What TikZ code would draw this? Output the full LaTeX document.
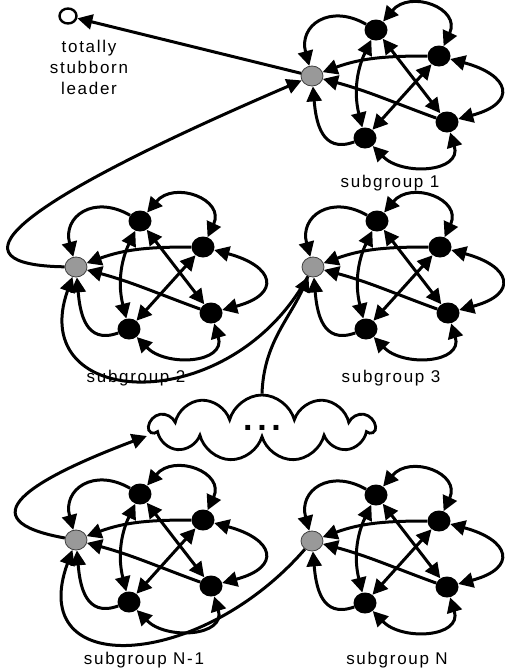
\documentclass[tikz,border=0pt]{standalone}
\usepackage{fontspec}
\setmainfont[LetterSpace=10]{Liberation Sans}
\usepackage{tikz}
\usetikzlibrary{positioning,arrows.meta,shapes.geometric,shapes.symbols}
\tikzset{
x=1pt, y=1pt
, every node/.style={font=\fontsize{17}{21}\selectfont}
, link/.style={line width=3pt, -{Triangle[length=15pt,width=15pt]}}
, twolink/.style={line width=3pt, {Triangle[length=15pt,width=15pt]}-{Triangle[length=15pt,width=15pt]}}
, leadernode/.style={ellipse, draw, line width=2.4pt, fill=white, minimum width=17pt, minimum height=15pt, inner sep=0pt}
, headnode/.style={ellipse, draw=black!75, line width=0.8pt, fill=black!40, minimum width=22pt, minimum height=20pt, inner sep=0pt}
, agentnode/.style={ellipse, fill=black, minimum width=23pt, minimum height=21pt, inner sep=0pt}
, cloudnode/.style={cloud, draw, line width=2.8pt, cloud puffs=11, aspect=3.3, minimum width=224pt, minimum height=66pt, inner sep=0pt, font=\fontsize{34}{34}\selectfont\bfseries}}
% one subgroup: name, position of its head, label position, label
\newcommand\drawsubgroup[4]{%
\begin{scope}[shift={#2}]
\node[headnode] (#1) at (0,0) {};
\node[agentnode] (#1a) at (64,46) {};
\node[agentnode] (#1b) at (127,20) {};
\node[agentnode] (#1c) at (135,-46) {};
\node[agentnode] (#1d) at (53,-62) {};
\node (#1lbl) at #3 {#4};
\draw [twolink] (#1a) to[out=50,in=65,distance=42pt] (#1b);
\draw [link] (#1a) to[out=150,in=105,distance=42pt] (#1);
\draw [twolink] (#1b) to[out=-15,in=15,distance=62pt] (#1c);
\draw [twolink] (#1d) to[out=-46,in=-73,distance=42pt] (#1c);
\draw [link] (#1d) to[out=200,in=-85,distance=35pt] (#1);
\draw [link] (#1b) to[out=180,in=20] (#1);
\draw [link] (#1c) to[out=160,in=-15] (#1);
\draw [twolink] (#1a) to[bend right=20] (#1d);
\draw [twolink] (#1a) -- (#1c);
\draw [twolink] (#1b) -- (#1d);
\end{scope}}

\begin{document}
\begin{tikzpicture}
\useasboundingbox (0,0) rectangle (505,-670);
\node[leadernode] at (68,-16) (leader) {};
\node[align=center] at (89,-67) (leaderlbl) {totally\\stubborn\\leader};
\drawsubgroup{s1}{(312,-76)}{(78,-107)}{subgroup 1}
\drawsubgroup{s2}{(76,-267)}{(60,-111)}{subgroup 2}
\drawsubgroup{s3}{(313,-267)}{(78,-111)}{subgroup 3}
\drawsubgroup{sN1}{(76,-540)}{(68,-120)}{subgroup N-1}
\drawsubgroup{sN}{(312,-541)}{(85,-119)}{subgroup N}
\node[cloudnode] at (262,-428) (cloud) {.\hspace{4.6pt}.\hspace{4.6pt}.};
\draw [link] (s1) -- (leader);
\draw [link] (s2) .. controls (-50,-265) and (0,-210) .. (s1);
\draw [link] (s3) .. controls (230,-420) and (25,-410) .. (s2);
\draw [link] (cloud.north) to[out=88,in=-115] (s3);
\draw [link] (sN1) .. controls (-35,-520) and (30,-480) .. ([yshift=-8pt]cloud.west);
\draw [link] (sN) .. controls (200,-670) and (25,-680) .. (sN1);
\end{tikzpicture}
\end{document}
